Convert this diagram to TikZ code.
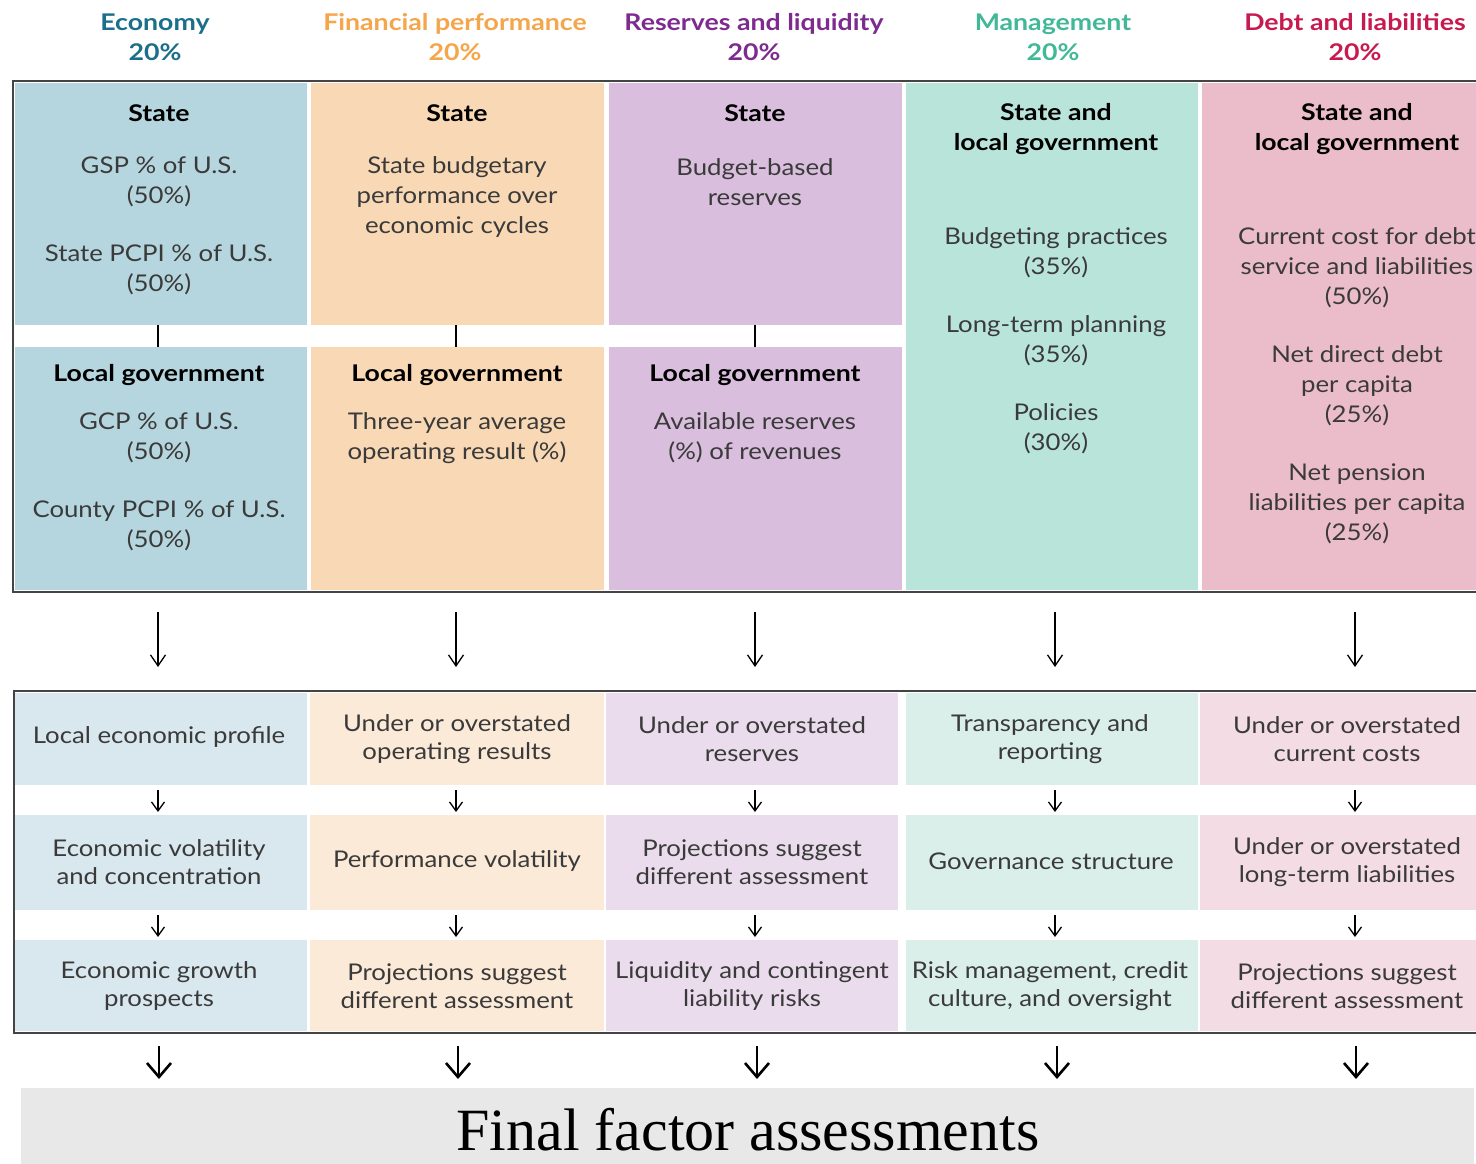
\documentclass[tikz,border=0pt]{standalone}
\usepackage{fontspec}
\setmainfont{Lato}[FakeStretch=1.12, BoldFeatures={FakeStretch=1.16}]
\newfontfamily\serifont{Liberation Serif}
\usetikzlibrary{arrows.meta}
\definecolor{hEco}{HTML}{1B6F8A}
\definecolor{hFin}{HTML}{F5A54A}
\definecolor{hRes}{HTML}{7E2B8F}
\definecolor{hMan}{HTML}{41B896}
\definecolor{hDebt}{HTML}{C71A4E}
\definecolor{tEco}{HTML}{B6D6DF}
\definecolor{tFin}{HTML}{F9D9B5}
\definecolor{tRes}{HTML}{D9BEDD}
\definecolor{tMan}{HTML}{B9E4DA}
\definecolor{tDebt}{HTML}{EBBDCB}
\definecolor{bEco}{HTML}{D9E8EE}
\definecolor{bFin}{HTML}{FCEAD8}
\definecolor{bRes}{HTML}{EADCEC}
\definecolor{bMan}{HTML}{DAEFEA}
\definecolor{bDebt}{HTML}{F3DCE3}
\definecolor{txt}{HTML}{3A3A3A}
\definecolor{frame}{HTML}{444444}
\definecolor{finalgray}{HTML}{E8E8E8}
\tikzset{
  hdr/.style={font=\bfseries\fontsize{23}{30}\selectfont, align=center, inner sep=0pt},
  body/.style={font=\fontsize{23}{30}\selectfont, align=center, text=txt, inner sep=0pt},
  bodyb/.style={font=\bfseries\fontsize{23}{30}\selectfont, align=center, text=black, inner sep=0pt},
  lowtxt/.style={font=\fontsize{23}{28}\selectfont, align=center, text=txt, inner sep=0pt},
  boxframe/.style={draw=frame, line width=2.2pt},
  tick/.style={draw=black, line width=1.4pt},
  midarrow/.style={draw=black, line width=1.3pt, -{Straight Barb[length=11pt,width=15pt,line width=1.3pt]}},
  smallarrow/.style={draw=black, line width=1.3pt, -{Straight Barb[length=9pt,width=13pt,line width=1.3pt]}},
  bigarrow/.style={draw=black, line width=2.6pt, -{Straight Barb[length=14pt,width=24pt,line width=2.6pt]}}
}
\begin{document}
\begin{tikzpicture}[x=1pt,y=-1pt]
\useasboundingbox (0,0) rectangle (1476,1163);
\clip (0,0) rectangle (1476,1163);
\fill[white] (0,0) rectangle (1476,1163);

% headers
\node[hdr, text=hEco] (h1) at (155,37) {Economy\\20\%};
\node[hdr, text=hFin] (h2) at (455,37) {Financial performance\\20\%};
\node[hdr, text=hRes] (h3) at (754,37) {Reserves and liquidity\\20\%};
\node[hdr, text=hMan] (h4) at (1053,37) {Management\\20\%};
\node[hdr, text=hDebt] (h5) at (1355,37) {Debt and liabilities\\20\%};

% top fills
\fill[tEco] (15,83) rectangle (307,325);
\fill[tEco] (15,347) rectangle (307,590);
\fill[tFin] (311,83) rectangle (604,325);
\fill[tFin] (311,347) rectangle (604,590);
\fill[tRes] (609,83) rectangle (902,325);
\fill[tRes] (609,347) rectangle (902,590);
\fill[tMan] (906,83) rectangle (1198,590);
\fill[tDebt] (1202,83) rectangle (1480,590);

% ticks between state and local
\coordinate (k1a) at (158,325); \coordinate (k1b) at (158,347);
\coordinate (k2a) at (456,325); \coordinate (k2b) at (456,347);
\coordinate (k3a) at (755,325); \coordinate (k3b) at (755,347);
\draw[tick] (k1a) -- (k1b);
\draw[tick] (k2a) -- (k2b);
\draw[tick] (k3a) -- (k3b);

\draw[boxframe] (1490,81) -- (13,81) -- (13,592) -- (1490,592);

% column 1 text
\node[bodyb] (s1) at (159,113) {State};
\node[body] (s1a) at (159,182) {GSP \% of U.S.\\(50\%)};
\node[body] (s1b) at (159,270) {State PCPI \% of U.S.\\(50\%)};
\node[bodyb] (l1) at (159,375) {Local government};
\node[body] (l1a) at (159,438) {GCP \% of U.S.\\(50\%)};
\node[body] (l1b) at (159,526) {County PCPI \% of U.S.\\(50\%)};
% column 2
\node[bodyb] (s2) at (457,113) {State};
\node[body] (s2a) at (457,197) {State budgetary\\performance over\\economic cycles};
\node[bodyb] (l2) at (457,375) {Local government};
\node[body] (l2a) at (457,438) {Three-year average\\operating result (\%)};
% column 3
\node[bodyb] (s3) at (755,113) {State};
\node[body] (s3a) at (755,182) {Budget-based\\reserves};
\node[bodyb] (l3) at (755,375) {Local government};
\node[body] (l3a) at (755,438) {Available reserves\\(\%) of revenues};
% column 4
\node[bodyb] (s4) at (1056,129) {State and\\local government};
\node[body] (s4a) at (1056,253) {Budgeting practices\\(35\%)};
\node[body] (s4b) at (1056,341) {Long-term planning\\(35\%)};
\node[body] (s4c) at (1056,429) {Policies\\(30\%)};
% column 5
\node[bodyb] (s5) at (1357,129) {State and\\local government};
\node[body] (s5a) at (1357,268) {Current cost for debt\\service and liabilities\\(50\%)};
\node[body] (s5b) at (1357,386) {Net direct debt\\per capita\\(25\%)};
\node[body] (s5c) at (1357,504) {Net pension\\liabilities per capita\\(25\%)};

% middle arrows
\foreach \i/\x in {1/158,2/456,3/755,4/1055,5/1355}{
  \coordinate (ma\i) at (\x,612);
  \coordinate (mb\i) at (\x,667);
  \draw[midarrow] (ma\i) -- (mb\i);
}

% bottom fills
\fill[bEco] (15,693) rectangle (307,785);
\fill[bEco] (15,815) rectangle (307,910);
\fill[bEco] (15,940) rectangle (307,1031);
\fill[bFin] (310,693) rectangle (604,785);
\fill[bFin] (310,815) rectangle (604,910);
\fill[bFin] (310,940) rectangle (604,1031);
\fill[bRes] (606,693) rectangle (898,785);
\fill[bRes] (606,815) rectangle (898,910);
\fill[bRes] (606,940) rectangle (898,1031);
\fill[bMan] (906,693) rectangle (1198,785);
\fill[bMan] (906,815) rectangle (1198,910);
\fill[bMan] (906,940) rectangle (1198,1031);
\fill[bDebt] (1200,693) rectangle (1480,785);
\fill[bDebt] (1200,815) rectangle (1480,910);
\fill[bDebt] (1200,940) rectangle (1480,1031);

\draw[boxframe] (1490,691) -- (14,691) -- (14,1033) -- (1490,1033);

% bottom texts
\node[lowtxt] (r1c1) at (159,737) {Local economic profile};
\node[lowtxt] (r2c1) at (159,862) {Economic volatility\\and concentration};
\node[lowtxt] (r3c1) at (159,986) {Economic growth\\prospects};
\node[lowtxt] (r1c2) at (457,739) {Under or overstated\\operating results};
\node[lowtxt] (r2c2) at (457,861) {Performance volatility};
\node[lowtxt] (r3c2) at (457,986) {Projections suggest\\different assessment};
\node[lowtxt] (r1c3) at (752,739) {Under or overstated\\reserves};
\node[lowtxt] (r2c3) at (752,862) {Projections suggest\\different assessment};
\node[lowtxt] (r3c3) at (752,986) {Liquidity and contingent\\liability risks};
\node[lowtxt] (r1c4) at (1050,739) {Transparency and\\reporting};
\node[lowtxt] (r2c4) at (1051,861) {Governance structure};
\node[lowtxt] (r3c4) at (1050,986) {Risk management, credit\\culture, and oversight};
\node[lowtxt] (r1c5) at (1347,739) {Under or overstated\\current costs};
\node[lowtxt] (r2c5) at (1347,862) {Under or overstated\\long-term liabilities};
\node[lowtxt] (r3c5) at (1347,986) {Projections suggest\\different assessment};

% small arrows between rows
\foreach \i/\x in {1/158,2/456,3/755,4/1055,5/1355}{
  \coordinate (sa\i) at (\x,790);
  \coordinate (sb\i) at (\x,812);
  \draw[smallarrow] (sa\i) -- (sb\i);
  \coordinate (ta\i) at (\x,915);
  \coordinate (tb\i) at (\x,937);
  \draw[smallarrow] (ta\i) -- (tb\i);
}

% final box
\fill[finalgray] (21,1088) rectangle (1474,1170);
\node[font=\serifont\fontsize{60}{62}\selectfont, text=black, inner sep=0pt] (final) at (748,1130) {Final factor assessments};

% bottom arrows
\foreach \i/\x in {1/159,2/458,3/757,4/1057,5/1356}{
  \coordinate (ba\i) at (\x,1046);
  \coordinate (bb\i) at (\x,1079);
  \draw[bigarrow] (ba\i) -- (bb\i);
}
\end{tikzpicture}
\end{document}
